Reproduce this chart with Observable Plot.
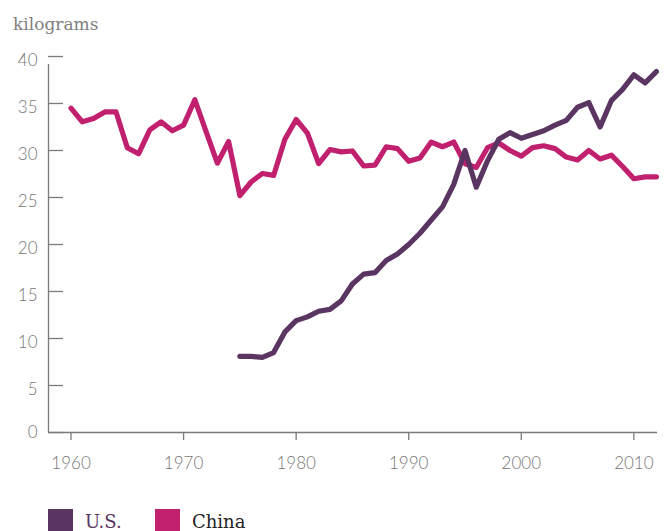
<!DOCTYPE html>
<html>
<head>
<meta charset="utf-8">
<script src="https://cdn.jsdelivr.net/npm/d3@7"></script>
<script src="https://cdn.jsdelivr.net/npm/@observablehq/plot@0.6"></script>
<style>
  body { margin: 0; background: #fff; }
  #wrap { width: 667px; height: 531px; position: relative; overflow: hidden; }
  #title { position: absolute; left: 13px; top: 16px; font-family: "DejaVu Serif", serif; font-size: 17px; line-height: 17px; color: #808080; }
  #chart { position: absolute; left: 0; top: 36px; }
  .sw { position: absolute; top: 509px; width: 25px; height: 25px; }
  .lt { position: absolute; top: 512.8px; font-family: "DejaVu Serif", serif; font-size: 18px; line-height: 18px; }
</style>
</head>
<body>
<div id="wrap">
  <div id="title">kilograms</div>
  <div id="chart"></div>
  <div class="sw" id="sw-us" style="left:48px"></div>
  <div class="lt" id="lt-us" style="left:85px"></div>
  <div class="sw" id="sw-cn" style="left:155px"></div>
  <div class="lt" id="lt-cn" style="left:192px"></div>
</div>
<script>
const years = [1960,1961,1962,1963,1964,1965,1966,1967,1968,1969,
               1970,1971,1972,1973,1974,1975,1976,1977,1978,1979,
               1980,1981,1982,1983,1984,1985,1986,1987,1988,1989,
               1990,1991,1992,1993,1994,1995,1996,1997,1998,1999,
               2000,2001,2002,2003,2004,2005,2006,2007,2008,2009,
               2010,2011,2012];
const china = [34.5,33.05,33.4,34.1,34.1,30.3,29.65,32.2,33.05,32.1,
               32.7,35.4,32.0,28.65,30.95,25.2,26.65,27.55,27.35,31.2,
               33.3,31.85,28.6,30.1,29.85,29.95,28.35,28.45,30.4,30.2,
               28.85,29.2,30.9,30.4,30.9,28.6,28.2,30.3,30.8,30.0,
               29.4,30.3,30.5,30.2,29.3,29.0,30.0,29.1,29.5,28.3,
               27.0,27.2,27.2];
const us =    [null,null,null,null,null,null,null,null,null,null,
               null,null,null,null,null,8.1,8.1,8.0,8.5,10.7,
               11.9,12.3,12.9,13.1,14.0,15.8,16.85,17.0,18.3,19.0,
               20.0,21.2,22.6,24.0,26.4,30.0,26.1,28.9,31.2,31.9,
               31.3,31.7,32.1,32.7,33.2,34.6,35.1,32.5,35.3,36.5,
               38.05,37.2,38.4];
const seriesNames = ["U.S.", "China"];
const seriesColors = ["#5a3562", "#c0206e"];
const yTicks = [0,5,10,15,20,25,30,35,40];
const xTicks = [1960,1970,1980,1990,2000,2010];

const axisColor = "#7b7b7b";
const chinaData = years.map((y, i) => ({year: y, value: china[i]}));
const usData = years.map((y, i) => ({year: y, value: us[i]}));

const chart = Plot.plot({
  width: 667,
  height: 460,
  marginLeft: 48,
  marginRight: 10,
  marginTop: 20,
  marginBottom: 64,
  x: {domain: [1958, 2012.1]},
  y: {domain: [0, 40]},
  style: {fontFamily: "Lato, sans-serif", fontSize: "17px", fontWeight: 300, color: "#777", background: "transparent"},
  marks: [
    Plot.ruleX([1958], {y1: 0, y2: 40, stroke: axisColor, strokeWidth: 1.3, insetBottom: -8}),
    Plot.ruleY([0], {stroke: axisColor, strokeWidth: 1.3}),
    Plot.axisY(yTicks, {tickSize: 15, dx: 15, tickFormat: () => "", stroke: axisColor, strokeWidth: 1.3, label: null}),
    Plot.axisY(yTicks.filter(d => d > 0), {tickSize: 0, tickPadding: 11, dy: 4.5, tickFormat: "d", label: null}),
    Plot.axisY([0], {tickSize: 0, tickPadding: 11, tickFormat: "d", label: null}),
    Plot.axisX(xTicks, {tickSize: 8, tickPadding: 16, tickFormat: "d", stroke: axisColor, strokeWidth: 1.3, label: null}),
    Plot.line(chinaData, {x: "year", y: "value", stroke: seriesColors[1], strokeWidth: 5.2}),
    Plot.line(usData, {x: "year", y: "value", stroke: seriesColors[0], strokeWidth: 5.2})
  ]
});
document.getElementById("chart").appendChild(chart);

document.getElementById("sw-us").style.background = seriesColors[0];
document.getElementById("sw-cn").style.background = seriesColors[1];
const ltUs = document.getElementById("lt-us");
ltUs.textContent = seriesNames[0];
ltUs.style.color = seriesColors[0];
const ltCn = document.getElementById("lt-cn");
ltCn.textContent = seriesNames[1];
ltCn.style.color = "#222";
</script>
</body>
</html>
